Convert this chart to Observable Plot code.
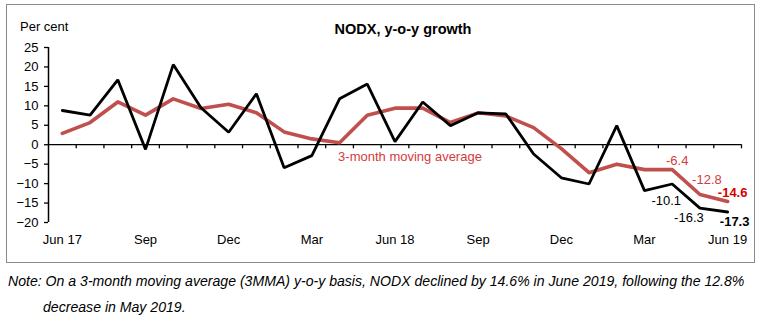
<!DOCTYPE html>
<html>
<head>
<meta charset="utf-8">
<script src="https://cdn.jsdelivr.net/npm/d3@7"></script>
<script src="https://cdn.jsdelivr.net/npm/@observablehq/plot@0.6"></script>
<style>
  body { margin: 0; background: #fff; font-family: "Liberation Sans", Arial, sans-serif; }
  #wrap { position: relative; width: 761px; height: 323px; overflow: hidden; }
  #chart { position: absolute; left: 0; top: 0; }
  #frame { position: absolute; left: 6px; top: 4px; width: 749px; height: 259px; border: 1.6px solid #8a8a8a; box-sizing: border-box; pointer-events: none; }
  #unit { position: absolute; left: 20px; top: 19px; font-size: 13px; line-height: 15px; color: #000; }
  #title { position: absolute; left: 253px; width: 300px; top: 21px; text-align: center; font-size: 14.5px; line-height: 17px; font-weight: bold; color: #000; }
  .note { position: absolute; font-style: italic; font-size: 14.1px; line-height: 15px; color: #000; white-space: nowrap; }
</style>
</head>
<body>
<div id="wrap">
  <div id="chart"></div>
  <div id="frame"></div>
  <div id="unit">Per cent</div>
  <div id="title">NODX, y-o-y growth</div>
  <div class="note" id="note1" style="left:8px; top:274px;">Note: On a 3-month moving average (3MMA) y-o-y basis, NODX declined by 14.6% in June 2019, following the 12.8%</div>
  <div class="note" id="note2" style="left:43px; top:300px;">decrease in May 2019.</div>
</div>
<script>
const months = ["Jun 17","Jul 17","Aug 17","Sep 17","Oct 17","Nov 17","Dec 17","Jan 18","Feb 18","Mar 18","Apr 18","May 18","Jun 18","Jul 18","Aug 18","Sep 18","Oct 18","Nov 18","Dec 18","Jan 19","Feb 19","Mar 19","Apr 19","May 19","Jun 19"];
const nodx = [8.8, 7.6, 16.7, -1.2, 20.6, 9.5, 3.2, 13.1, -5.9, -2.8, 11.8, 15.6, 0.8, 11.0, 4.9, 8.2, 7.9, -2.4, -8.5, -10.1, 4.9, -11.8, -10.1, -16.3, -17.3];
const mma = [2.9, 5.7, 11.0, 7.6, 11.8, 9.3, 10.4, 8.2, 3.3, 1.5, 0.5, 7.6, 9.4, 9.4, 5.7, 8.2, 7.4, 4.4, -1.0, -7.2, -5.0, -6.4, -6.4, -12.8, -14.6];
const xTickLabels = ["Jun 17","Sep","Dec","Mar","Jun 18","Sep","Dec","Mar","Jun 19"];
const yTicks = [-20, -15, -10, -5, 0, 5, 10, 15, 20, 25];
const seriesLabel = "3-month moving average";
const endLabelMonths = ["Apr 19", "May 19", "Jun 19"];

const redLine = "#c0504d";
const redText = "#d23c3c";
const redBold = "#d40000";

const idx = months.map((m, i) => i);
const rowsN = idx.map(i => ({i, v: nodx[i]}));
const rowsM = idx.map(i => ({i, v: mma[i]}));
const fmt = v => v.toFixed(1);

// label styles (offsets in px) for the last three months
const mmaStyles = [
  {dx: 5, dy: -9, fill: redText, fontWeight: "normal"},
  {dx: 7, dy: -15, fill: redText, fontWeight: "normal"},
  {dx: 5, dy: -9, fill: redBold, fontWeight: "bold"}
];
const nodxStyles = [
  {dx: -6, dy: 17, fill: "#000", fontWeight: "normal"},
  {dx: -11, dy: 10, fill: "#000", fontWeight: "normal"},
  {dx: 7, dy: 10, fill: "#000", fontWeight: "bold"}
];
const endIdx = endLabelMonths.map(m => months.indexOf(m));

const labelMarks = [];
endIdx.forEach((i, k) => {
  labelMarks.push(Plot.text([{i, v: mma[i]}], {x: "i", y: "v", text: d => fmt(d.v), fontSize: 13, ...mmaStyles[k]}));
  labelMarks.push(Plot.text([{i, v: nodx[i]}], {x: "i", y: "v", text: d => fmt(d.v), fontSize: 13, ...nodxStyles[k]}));
});

const n = months.length;
const boundaries = d3.range(0.5, n, 1);
const labelPos = xTickLabels.map((t, k) => k * 3);

const chart = Plot.plot({
  width: 761,
  height: 265,
  marginLeft: 48,
  marginRight: 20,
  marginTop: 47,
  marginBottom: 43,
  style: {fontFamily: "'Liberation Sans', Arial, sans-serif", fontSize: "13px", background: "transparent", color: "#000"},
  x: {type: "linear", domain: [-0.5, n - 0.5]},
  y: {domain: [-20, 25]},
  marks: [
    Plot.axisY({ticks: yTicks, tickSize: 4, tickPadding: 6, fontSize: 13, strokeWidth: 1.3, label: null}),
    Plot.ruleX([-0.5], {y1: -20, y2: 25, stroke: "#000", strokeWidth: 1.5}),
    Plot.axisX(labelPos, {anchor: "bottom", tickSize: 0, tickPadding: 12, fontSize: 13, tickFormat: d => xTickLabels[d / 3], label: null}),
    Plot.ruleY([0], {stroke: "#000", strokeWidth: 1.3}),
    Plot.ruleX(boundaries, {y1: 0, y2: -1.05, stroke: "#000", strokeWidth: 1.3}),
    Plot.lineY(rowsM, {x: "i", y: "v", stroke: redLine, strokeWidth: 3.6}),
    Plot.lineY(rowsN, {x: "i", y: "v", stroke: "#000", strokeWidth: 2.8, strokeLinejoin: "miter"}),
    Plot.text([{i: months.indexOf("Jun 18"), v: 0}], {x: "i", y: "v", text: () => seriesLabel, fill: redText, fontSize: 13, dx: 15, dy: 12}),
    ...labelMarks
  ]
});
document.getElementById("chart").appendChild(chart);
</script>
</body>
</html>
